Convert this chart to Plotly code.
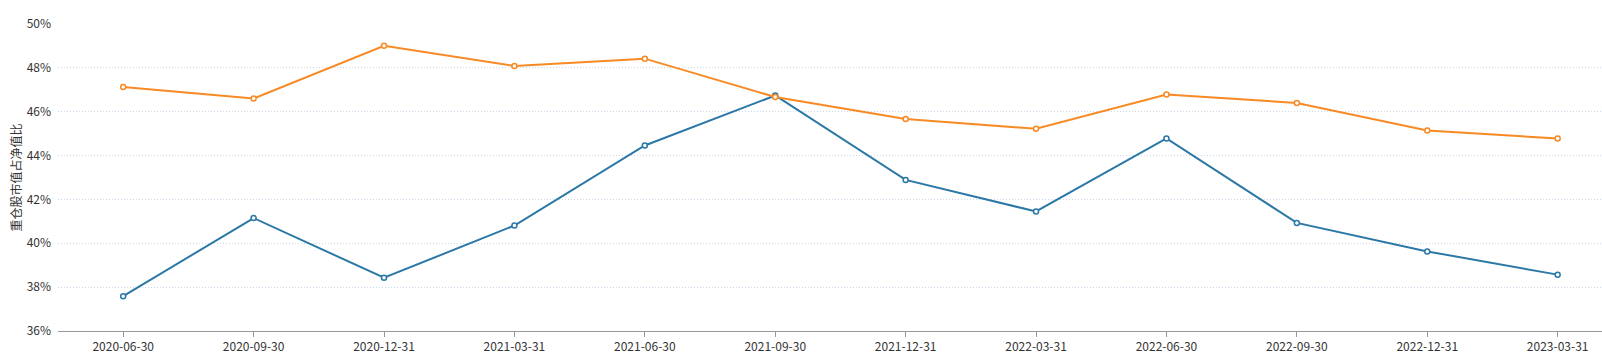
import plotly.graph_objects as go

dates = ["2020-06-30", "2020-09-30", "2020-12-31", "2021-03-31", "2021-06-30", "2021-09-30",
         "2021-12-31", "2022-03-31", "2022-06-30", "2022-09-30", "2022-12-31", "2023-03-31"]
series_blue = [37.59, 41.15, 38.43, 40.81, 44.46, 46.74, 42.89, 41.45, 44.78, 40.93, 39.63, 38.57]
series_orange = [47.13, 46.60, 49.01, 48.09, 48.42, 46.67, 45.67, 45.22, 46.78, 46.40, 45.14, 44.78]
y_ticks = [36, 38, 40, 42, 44, 46, 48, 50]

FONT = "Microsoft YaHei, Noto Sans CJK SC, sans-serif"

fig = go.Figure()
for vals, color in [(series_blue, "#2b78a6"), (series_orange, "#f78a24")]:
    fig.add_trace(go.Scatter(
        x=dates, y=[v / 100 for v in vals], mode="lines+markers",
        line=dict(color=color, width=2),
        marker=dict(symbol="circle", size=5, color="white", line=dict(color=color, width=1.5)),
        showlegend=False,
    ))

fig.update_layout(
    width=1602, height=364,
    margin=dict(l=58, r=0, t=24, b=33),
    paper_bgcolor="white", plot_bgcolor="white",
    font=dict(family=FONT, size=12, color="#333"),
    xaxis=dict(type="category", range=[-0.5, 11.34], showgrid=False, automargin=False,
               showline=True, linecolor="#999999", linewidth=1,
               ticks="outside", tickcolor="#999999", ticklen=5,
               tickfont=dict(size=12, color="#333")),
    yaxis=dict(range=[0.36, 0.50], tickvals=[t / 100 for t in y_ticks],
               ticktext=[f"{t}%" for t in y_ticks], automargin=False,
               showgrid=True, gridcolor="#c9d8ea", griddash="1px,2px", gridwidth=1,
               zeroline=False, showline=False, ticks="", ticklabelstandoff=6,
               tickfont=dict(size=12, color="#333"),
               title=dict(text="重仓股市值占净值比", standoff=2, font=dict(size=12, color="#333"))),
)

fig.write_html("out.html", config={"displayModeBar": False},
               post_script="document.body.style.margin='0';document.body.style.padding='0';")
